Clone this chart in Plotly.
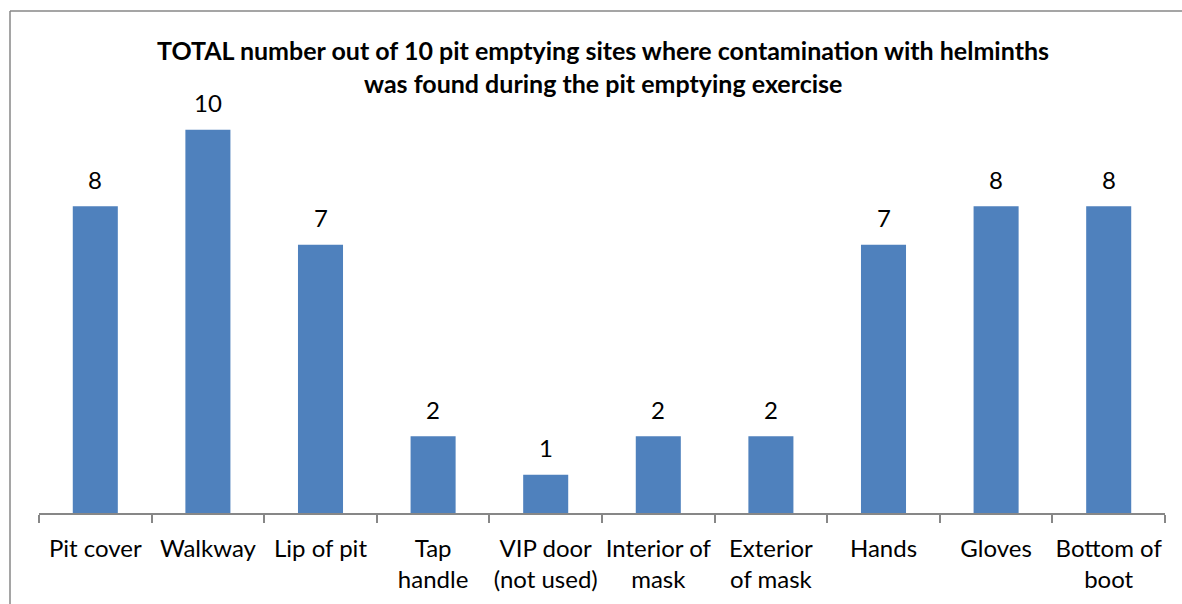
import plotly.graph_objects as go

categories = ["Pit cover", "Walkway", "Lip of pit", "Tap<br>handle", "VIP door<br>(not used)",
              "Interior of<br>mask", "Exterior<br>of mask", "Hands", "Gloves", "Bottom of<br>boot"]
values = [8, 10, 7, 2, 1, 2, 2, 7, 8, 8]
title_lines = ["TOTAL number out of 10 pit emptying sites where contamination with helminths",
               "was found during the pit emptying exercise"]

FONT = "Lato"
W, H = 1182, 604
ml, mr, mt, mb = 39, 17, 53, 91
pw, ph = W - ml - mr, H - mt - mb

def px_x(x):
    return (x - ml) / pw

def px_y(y):
    return (H - mb - y) / ph

fig = go.Figure(go.Bar(
    x=categories, y=values,
    marker=dict(color="#4F81BD", line=dict(width=0)),
    width=0.4,
    cliponaxis=False,
    hoverinfo="x+y",
))

label_annotations = [
    dict(x=c, y=v, xref="x", yref="y", text=str(v), showarrow=False,
         yanchor="middle", xanchor="center", yshift=27,
         font=dict(family=FONT, size=24, color="#000000"))
    for c, v in zip(categories, values)
]

border = dict(color="#878787", width=1.5)

fig.update_layout(
    width=W, height=H,
    margin=dict(l=ml, r=mr, t=mt, b=mb, autoexpand=False),
    paper_bgcolor="white", plot_bgcolor="white",
    showlegend=False,
    bargap=0.6,
    xaxis=dict(
        type="category", tickson="boundaries", ticks="outside", ticklen=8,
        tickcolor="#878787", tickwidth=1.5,
        showline=True, linecolor="#878787", linewidth=1.5,
        showgrid=False, zeroline=False,
        tickfont=dict(family=FONT, size=24, color="#000000"),
        tickangle=0, automargin=False,
        ticklabelstandoff=13,
        range=[-0.5, 9.5],
    ),
    yaxis=dict(range=[0, 12], visible=False, showgrid=False, zeroline=False, automargin=False),
    shapes=[
        dict(type="line", xref="paper", yref="paper",
             x0=px_x(10), x1=px_x(1182), y0=px_y(11), y1=px_y(11), line=border, layer="below"),
        dict(type="line", xref="paper", yref="paper",
             x0=px_x(10), x1=px_x(10), y0=px_y(11), y1=px_y(604), line=border, layer="below"),
    ],
    annotations=label_annotations + [
        dict(text=f"<b>{title_lines[0]}</b>", xref="paper", yref="paper",
             x=px_x(603), y=px_y(50), showarrow=False, xanchor="center", yanchor="middle",
             font=dict(family=FONT, size=25, color="#000000")),
        dict(text=f"<b>{title_lines[1]}</b>", xref="paper", yref="paper",
             x=px_x(603), y=px_y(83), showarrow=False, xanchor="center", yanchor="middle",
             font=dict(family=FONT, size=25, color="#000000")),
    ],
)

fig.write_html("out.html", config={"displayModeBar": False})

# remove the default 8px body margin so the figure fills the window exactly
with open("out.html", "r", encoding="utf-8") as f:
    html = f.read()
html = html.replace("<head>", "<head><style>html,body{margin:0;padding:0;overflow:hidden;}</style>", 1)
with open("out.html", "w", encoding="utf-8") as f:
    f.write(html)
